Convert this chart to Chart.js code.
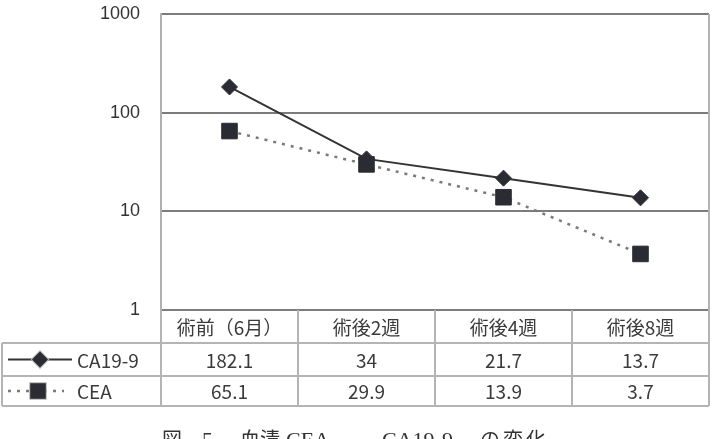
<!DOCTYPE html>
<html>
<head>
<meta charset="utf-8">
<script src="https://cdn.jsdelivr.net/npm/chart.js@4.4.1/dist/chart.umd.min.js"></script>
<style>
  html, body { margin: 0; padding: 0; background: #fff; }
  #wrap { position: relative; width: 717px; height: 439px; }
</style>
</head>
<body>
<div id="wrap"><canvas id="chart" width="717" height="439"></canvas></div>
<script>
// データ
const categories = ['術前（6月）', '術後2週', '術後4週', '術後8週'];
const ca199 = [182.1, 34, 21.7, 13.7];
const cea = [65.1, 29.9, 13.9, 3.7];
const yTicks = [1, 10, 100, 1000];
const captionParts = ['図', '5', '血清', 'CEA、', 'CA19-9', 'の変化'];

const jpFont = "'Noto Sans CJK JP', 'Liberation Sans', sans-serif";

// 表（凡例＋数値）を x 軸に合わせて描く
const tablePlugin = {
  id: 'dataTable',
  afterDraw(chart) {
    const ctx = chart.ctx;
    const area = chart.chartArea;
    const xs = chart.scales.x;
    const rowY = [area.bottom, area.bottom + 33, area.bottom + 66, area.bottom + 96];
    const leftX = 2;

    // 列の境界
    const bounds = [area.left];
    for (let i = 0; i < categories.length - 1; i++) {
      bounds.push((xs.getPixelForValue(i) + xs.getPixelForValue(i + 1)) / 2);
    }
    bounds.push(area.right);

    ctx.save();
    ctx.strokeStyle = '#b4b4b4';
    ctx.lineWidth = 2;

    // 右の枠線
    ctx.beginPath();
    ctx.moveTo(area.right, area.top);
    ctx.lineTo(area.right, area.bottom);
    ctx.stroke();

    // 横線
    ctx.beginPath();
    [rowY[1], rowY[2], rowY[3]].forEach(y => {
      ctx.moveTo(leftX, y);
      ctx.lineTo(area.right, y);
    });
    ctx.stroke();

    // 縦線
    ctx.beginPath();
    ctx.moveTo(leftX, rowY[1]);
    ctx.lineTo(leftX, rowY[3]);
    bounds.forEach(x => {
      ctx.moveTo(x, rowY[0]);
      ctx.lineTo(x, rowY[3]);
    });
    ctx.stroke();

    // 文字
    ctx.fillStyle = '#3a3a3a';
    ctx.textAlign = 'center';
    ctx.textBaseline = 'middle';
    ctx.font = '19px ' + jpFont;
    categories.forEach((c, i) => {
      const x = xs.getPixelForValue(i);
      ctx.fillText(c, x, (rowY[0] + rowY[1]) / 2 + 1);
      ctx.fillText(String(ca199[i]), x, (rowY[1] + rowY[2]) / 2 + 1);
      ctx.fillText(String(cea[i]), x, (rowY[2] + rowY[3]) / 2 + 1);
    });

    // 凡例
    const ds = chart.data.datasets;
    [1, 2].forEach((r, k) => {
      const d = ds[k];
      const y = (rowY[r] + rowY[r + 1]) / 2;
      ctx.save();
      ctx.strokeStyle = d.borderColor;
      ctx.lineWidth = d.borderWidth;
      ctx.setLineDash(d.borderDash || []);
      ctx.beginPath();
      ctx.moveTo(8, y);
      ctx.lineTo(k === 0 ? 72 : 64, y);
      ctx.stroke();
      ctx.restore();
      Chart.helpers.drawPoint(ctx, {
        pointStyle: d.pointStyle,
        radius: d.pointRadius,
        borderWidth: 1
      }, k === 0 ? 40 : 38, y);
      ctx.fillStyle = d.pointBackgroundColor;
      ctx.fill();
      ctx.fillStyle = '#3a3a3a';
      ctx.textAlign = 'left';
      ctx.font = '19px ' + jpFont;
      ctx.fillText(d.label, 77, y + 1);
    });

    // 図のタイトル（下端で切れている）
    ctx.fillStyle = '#333';
    ctx.textAlign = 'left';
    ctx.textBaseline = 'alphabetic';
    const capX = [162, 202, 240, 286, 382, 480];
    captionParts.forEach((t, i) => {
      const latin = /[A-Z0-9]/.test(t);
      ctx.font = (latin ? '22px' : '20px') + " 'Liberation Serif', 'Noto Sans CJK JP', serif";
      ctx.letterSpacing = i === 5 ? '3px' : '0px';
      ctx.fillText(t, capX[i], 447);
    });
    ctx.restore();
  }
};

const ctx = document.getElementById('chart').getContext('2d');
new Chart(ctx, {
  type: 'line',
  data: {
    labels: categories,
    datasets: [{
      label: 'CA19-9',
      data: ca199,
      borderColor: '#333333',
      borderWidth: 2,
      pointStyle: 'rectRot',
      pointRadius: 8,
      pointBackgroundColor: '#2b2b33',
      pointBorderColor: '#2b2b33',
      pointBorderWidth: 1,
      tension: 0
    }, {
      label: 'CEA',
      data: cea,
      borderColor: '#7a7a7a',
      borderWidth: 2.5,
      borderDash: [3, 6],
      pointStyle: 'rect',
      pointRadius: 11,
      pointBackgroundColor: '#2b2b33',
      pointBorderColor: '#2b2b33',
      pointBorderWidth: 1,
      tension: 0
    }]
  },
  options: {
    responsive: false,
    animation: false,
    layout: { autoPadding: false, padding: { top: 14, right: 8, bottom: 129, left: 0 } },
    plugins: {
      legend: { display: false },
      tooltip: { enabled: false }
    },
    scales: {
      x: {
        offset: true,
        afterFit: (scale) => { scale.height = 0; },
        grid: { display: false },
        border: { display: false },
        ticks: { display: false }
      },
      y: {
        type: 'logarithmic',
        min: 1,
        max: 1000,
        afterBuildTicks: (scale) => {
          scale.ticks = yTicks.map(v => ({ value: v }));
        },
        afterFit: (scale) => { scale.width = 161; },
        ticks: {
          padding: 0,
          color: '#333',
          font: { size: 18, family: "'Liberation Sans', sans-serif" },
          callback: (v) => String(v)
        },
        grid: { color: '#7c7c7c', lineWidth: 2, drawTicks: true, tickLength: 21, tickColor: 'rgba(0,0,0,0)' },
        border: { color: '#b0b0b0', width: 2 }
      }
    }
  },
  plugins: [tablePlugin]
});
</script>
</body>
</html>
